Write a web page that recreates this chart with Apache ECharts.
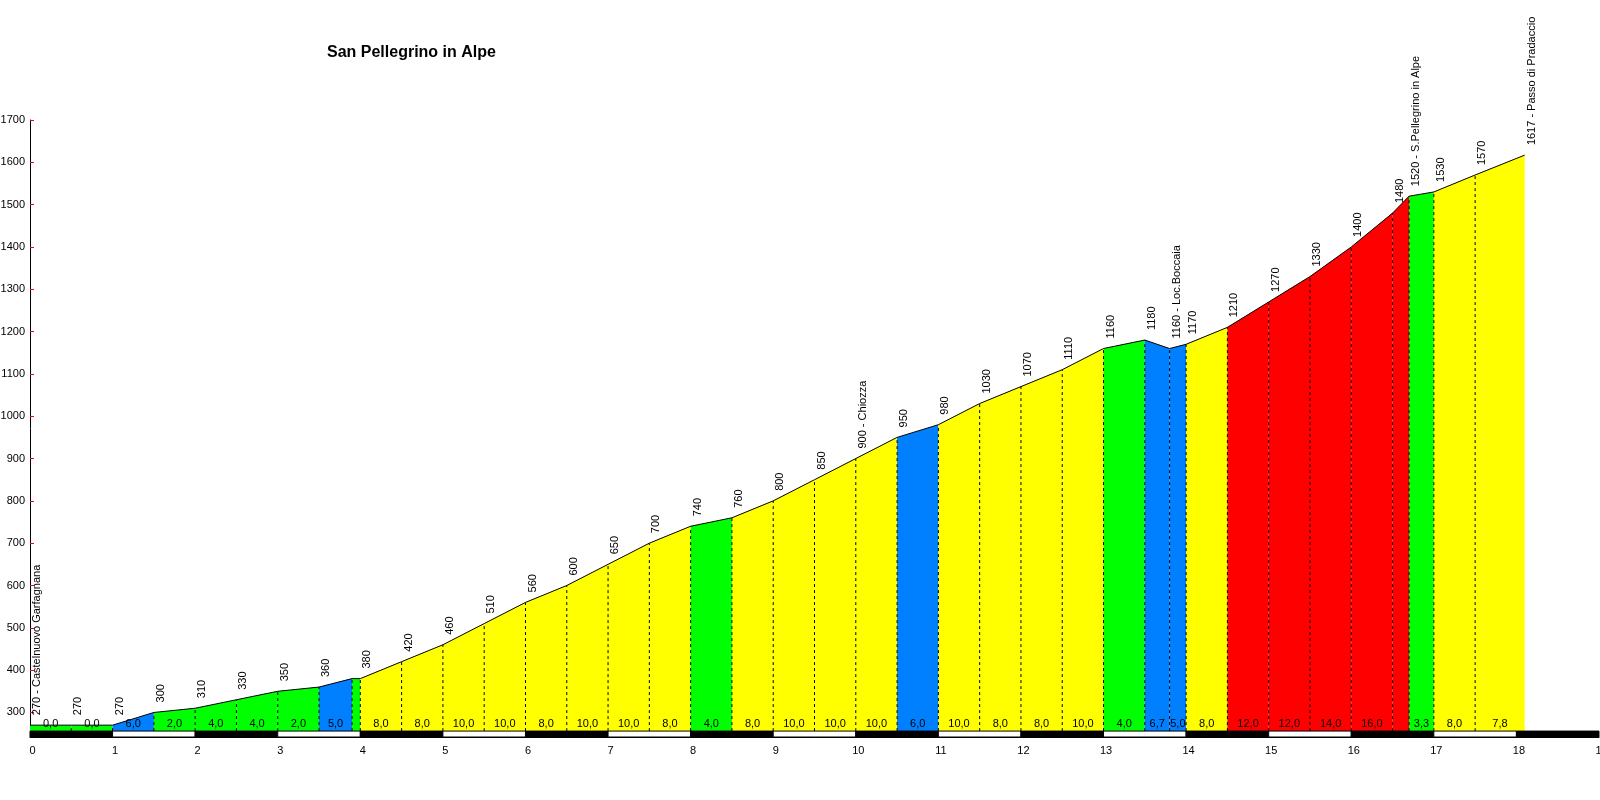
<!DOCTYPE html>
<html lang="it">
<head>
    <meta charset="UTF-8">
    <title>San Pellegrino in Alpe</title>
    <script src="https://cdn.jsdelivr.net/npm/echarts@6/dist/echarts.min.js"></script>
    <style>
        html, body { margin: 0; padding: 0; background: #fff; }
        #main { width: 1600px; height: 800px; }
    </style>
</head>
<body>
<div id="main"></div>

<script type="text/javascript">
    // profilo altimetrico: progressiva (km) e quota (m)
    var km = [0, 0.5, 1, 1.5, 2, 2.5, 3, 3.5, 3.9, 4, 4.5, 5, 5.5, 6, 6.5, 7, 7.5, 8,
        8.5, 9, 9.5, 10, 10.5, 11, 11.5, 12, 12.5, 13, 13.5, 13.8, 14,
        14.5, 15, 15.5, 16, 16.5, 16.7, 17, 17.5, 18.1];
    var quota = [270, 270, 270, 300, 310, 330, 350, 360, 380, 380, 420, 460, 510, 560, 600, 650, 700, 740,
        760, 800, 850, 900, 950, 980, 1030, 1070, 1110, 1160, 1180, 1160, 1170,
        1210, 1270, 1330, 1400, 1480, 1520, 1530, 1570, 1617];
    // nome della località ('' = solo quota, null = nessuna etichetta)
    var localita = ['Castelnuovo Garfagnana', '', '', '', '', '', '', '', null, '', '', '', '', '', '', '', '', '',
        '', '', '', 'Chiozza', '', '', '', '', '', '', '', 'Loc.Boccaia', '',
        '', '', '', '', '', 'S.Pellegrino in Alpe', '', '', 'Passo di Pradaccio'];
    // pendenza scritta in basso su ogni tratto
    var pendenze = ['0,0', '0,0', '6,0', '2,0', '4,0', '4,0', '2,0', '5,0', '', '8,0', '8,0', '10,0', '10,0', '8,0', '10,0', '10,0', '8,0',
        '4,0', '8,0', '10,0', '10,0', '10,0', '6,0', '10,0', '8,0', '8,0', '10,0', '4,0', '6,7', '5,0',
        '8,0', '12,0', '12,0', '14,0', '16,0', '', '3,3', '8,0', '7,8'];
    var yTicks = [300, 400, 500, 600, 700, 800, 900, 1000, 1100, 1200, 1300, 1400, 1500, 1600, 1700];
    // blocchi della scala chilometrica (bianco/nero)
    var blocchiScala = [0, 1, 2, 3, 4, 5, 6, 7, 8, 9, 10, 11, 12, 13, 14, 15, 16, 17, 18];

    var BASE = 256;     // quota del fondo colorato
    var Y_MIN = 242;    // fondo asse (sotto la scala)
    var FONT = '"Liberation Sans", Arial, sans-serif';

    function colorePendenza(p) {
        if (p < 4.5) return '#00ff00';
        if (p < 7.5) return '#0080ff';
        if (p < 11) return '#ffff00';
        return '#ff0000';
    }

    var tratti = [];
    for (var i = 0; i < km.length - 1; i++) {
        tratti.push([km[i], quota[i], km[i + 1], quota[i + 1], i]);
    }
    var punti = km.map(function (k, i) { return [k, quota[i], i]; });

    var myChart = echarts.init(document.getElementById('main'));

    myChart.setOption({
        animation: false,
        backgroundColor: '#fff',
        title: {
            text: 'San Pellegrino in Alpe',
            left: 322,
            top: 40,
            textStyle: { fontSize: 16, fontWeight: 'bold', color: '#000', fontFamily: FONT }
        },
        grid: { left: 30, right: 1, top: 120, bottom: 63, outerBoundsMode: 'none' },
        xAxis: {
            type: 'value',
            min: 0,
            max: 19,
            interval: 1,
            axisLine: { show: true, lineStyle: { color: '#000', width: 1 } },
            axisTick: { show: false },
            splitLine: { show: false },
            axisLabel: { color: '#000', fontSize: 11, fontFamily: FONT, margin: 8, padding: [0, 0, 0, 5] }
        },
        yAxis: {
            type: 'value',
            min: Y_MIN,
            max: 1700,
            axisLine: { show: true, lineStyle: { color: '#000', width: 1 } },
            axisTick: { show: true, inside: true, length: 4, customValues: yTicks, lineStyle: { color: '#ff0000' } },
            splitLine: { show: false },
            axisLabel: {
                customValues: yTicks, color: '#000', fontSize: 11, fontFamily: FONT, margin: 5,
                formatter: function (v) { return String(v); }
            }
        },
        series: [
            {
                // riempimento colorato per tratto
                type: 'custom',
                z: 1,
                clip: false,
                data: tratti,
                renderItem: function (params, api) {
                    var x0 = api.value(0), y0 = api.value(1), x1 = api.value(2), y1 = api.value(3);
                    var p = Math.abs(y1 - y0) / ((x1 - x0) * 10);
                    return {
                        type: 'polygon',
                        shape: { points: [api.coord([x0, BASE]), api.coord([x0, y0]), api.coord([x1, y1]), api.coord([x1, BASE])] },
                        style: { fill: colorePendenza(p) }
                    };
                }
            },
            {
                // linee tratteggiate e pendenze
                type: 'custom',
                z: 2,
                clip: false,
                data: tratti,
                renderItem: function (params, api) {
                    var x0 = api.value(0), y0 = api.value(1), x1 = api.value(2), idx = api.value(4);
                    var children = [];
                    if (idx > 0) {
                        var a = api.coord([x0, BASE]), b = api.coord([x0, y0]);
                        children.push({
                            type: 'line',
                            shape: { x1: a[0], y1: a[1], x2: b[0], y2: b[1] },
                            style: { stroke: '#000', lineWidth: 1, lineDash: [3, 3] }
                        });
                    }
                    var c = api.coord([(x0 + x1) / 2, BASE]);
                    children.push({
                        type: 'text',
                        x: c[0],
                        y: c[1] - 2,
                        style: { text: pendenze[idx], fill: '#000', font: '11px ' + FONT, textAlign: 'center', textVerticalAlign: 'bottom' }
                    });
                    return { type: 'group', children: children };
                }
            },
            {
                name: 'quota',
                type: 'line',
                z: 3,
                data: punti,
                showSymbol: false,
                symbol: 'none',
                silent: true,
                lineStyle: { color: '#000', width: 1 }
            },
            {
                // etichette quota / località
                type: 'custom',
                z: 4,
                clip: false,
                data: punti,
                renderItem: function (params, api) {
                    var idx = api.value(2);
                    var nome = localita[idx];
                    if (nome === null) return null;
                    var testo = api.value(1) + (nome ? ' - ' + nome : '');
                    var p = api.coord([api.value(0), api.value(1)]);
                    return {
                        type: 'text',
                        x: p[0] + 7,
                        y: p[1] - 10,
                        rotation: Math.PI / 2,
                        style: { text: testo, fill: '#000', font: '11px ' + FONT, textAlign: 'left', textVerticalAlign: 'middle' }
                    };
                }
            },
            {
                // scala chilometrica bianco/nero
                type: 'custom',
                z: 5,
                clip: false,
                data: blocchiScala.map(function (k) { return [k]; }),
                renderItem: function (params, api) {
                    var k = api.value(0);
                    var a = api.coord([k, BASE]), b = api.coord([k + 1, Y_MIN]);
                    return {
                        type: 'rect',
                        shape: { x: a[0], y: a[1], width: b[0] - a[0], height: b[1] - a[1] },
                        style: { fill: k % 2 === 0 ? '#000' : '#fff', stroke: '#000', lineWidth: 1 }
                    };
                }
            }
        ]
    });
</script>
</body>
</html>
